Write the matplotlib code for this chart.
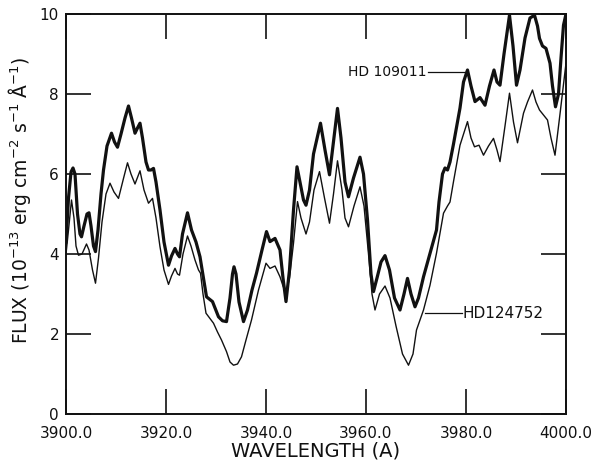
import matplotlib
matplotlib.use("Agg")
import matplotlib.pyplot as plt

# HD 109011 (thick trace): wavelength (A), flux (1e-13 erg cm-2 s-1 A-1)
wl_109011 = [3900.0, 3900.5, 3901.0, 3901.4, 3901.8, 3902.3, 3902.8, 3903.1, 3903.6, 3904.2,
             3904.6, 3905.0, 3905.5, 3905.9, 3906.4, 3907.0, 3907.5, 3908.2, 3909.1, 3909.7,
             3910.3, 3911.0, 3911.8, 3912.5, 3913.1, 3913.8, 3914.3, 3914.8, 3915.3, 3916.0,
             3916.5, 3917.0, 3917.5, 3918.0, 3918.8, 3919.6, 3920.5, 3921.1, 3921.8, 3922.3,
             3922.7, 3923.3, 3924.3, 3925.1, 3926.0, 3926.8, 3927.5, 3928.1, 3929.3, 3930.5,
             3931.3, 3932.1, 3932.8, 3933.3, 3933.6, 3934.0, 3934.6, 3935.5, 3936.3, 3937.2,
             3938.1, 3939.2, 3940.1, 3940.8, 3941.8, 3942.8, 3943.4, 3944.0, 3944.7, 3945.5,
             3946.2, 3946.8, 3947.5, 3948.0, 3948.7, 3949.5, 3950.9, 3951.8, 3952.7, 3953.5,
             3954.3, 3955.0, 3955.8, 3956.5, 3957.5, 3958.8, 3959.5, 3960.3, 3961.0, 3961.5,
             3962.2, 3963.0, 3963.8, 3964.7, 3965.7, 3966.8, 3967.6, 3968.3, 3969.0, 3969.8,
             3970.5, 3971.5, 3972.8, 3974.1, 3974.6, 3975.3, 3975.8, 3976.3, 3976.8, 3977.5,
             3978.8, 3979.5, 3980.3, 3981.0, 3981.8, 3982.8, 3983.8, 3984.7, 3985.6, 3986.2,
             3986.8, 3987.6, 3988.7, 3989.4, 3990.1, 3990.8, 3991.8, 3992.8, 3993.7, 3994.3,
             3994.7, 3995.3, 3996.0, 3996.8, 3997.3, 3997.9, 3998.5, 3999.0, 3999.5, 4000.0]
fx_109011 = [4.3, 5.4, 6.05, 6.15, 6.0, 5.0, 4.5, 4.43, 4.7, 5.0,
             5.03, 4.7, 4.2, 4.06, 4.6, 5.5, 6.1, 6.7, 7.02, 6.8,
             6.67, 7.0, 7.4, 7.7, 7.4, 7.02, 7.15, 7.27, 6.9, 6.3,
             6.1, 6.1, 6.14, 5.8, 5.1, 4.3, 3.72, 3.95, 4.14, 4.0,
             3.93, 4.5, 5.03, 4.6, 4.3, 3.93, 3.4, 2.93, 2.81, 2.43,
             2.33, 2.31, 2.9, 3.5, 3.68, 3.5, 2.8, 2.31, 2.6, 3.1,
             3.52, 4.1, 4.56, 4.31, 4.39, 4.1, 3.4, 2.81, 3.6, 5.1,
             6.18, 5.8, 5.35, 5.22, 5.6, 6.5, 7.27, 6.6, 5.98, 6.8,
             7.64, 6.9, 5.8, 5.43, 5.9, 6.42, 6.0, 4.85, 3.5, 3.06,
             3.4, 3.8, 3.96, 3.6, 2.9, 2.6, 3.0, 3.39, 3.0, 2.68,
             2.9, 3.43, 4.02, 4.6, 5.3, 6.0, 6.15, 6.1, 6.3, 6.75,
             7.65, 8.3, 8.6, 8.2, 7.81, 7.91, 7.72, 8.2, 8.6, 8.3,
             8.22, 9.0, 9.97, 9.2, 8.22, 8.6, 9.4, 9.9, 9.97, 9.7,
             9.39, 9.2, 9.14, 8.77, 8.2, 7.68, 8.0, 8.9, 9.72, 10.0]

# HD 124752 (thin trace)
wl_124752 = [3900.0, 3900.5, 3901.1, 3901.6, 3902.0, 3902.5, 3903.2, 3904.1, 3904.6, 3905.3,
             3905.9, 3906.5, 3907.2, 3908.0, 3908.8, 3909.6, 3910.5, 3911.5, 3912.3, 3913.0,
             3913.8, 3914.8, 3915.6, 3916.5, 3917.3, 3918.0, 3918.8, 3919.6, 3920.5, 3921.1,
             3921.8, 3922.3, 3922.7, 3923.4, 3924.3, 3925.0, 3925.8, 3926.5, 3926.9, 3927.4,
             3928.0, 3929.5, 3930.3, 3931.1, 3932.1, 3932.8, 3933.5, 3934.3, 3935.1, 3936.0,
             3937.1, 3938.5, 3940.0, 3940.8, 3941.8, 3942.8, 3943.4, 3944.0, 3944.7, 3945.5,
             3946.3, 3947.0, 3948.0, 3948.7, 3949.6, 3950.7, 3951.7, 3952.7, 3953.5, 3954.3,
             3955.2, 3955.8, 3956.5, 3957.6, 3958.8, 3959.6, 3960.5, 3961.2, 3961.8, 3962.7,
             3963.8, 3964.8, 3966.0, 3967.3, 3968.5, 3969.4, 3970.1, 3971.5, 3972.8, 3974.1,
             3975.5, 3976.3, 3976.8, 3977.5, 3978.8, 3980.3, 3981.0, 3981.7, 3982.6, 3983.5,
             3984.5, 3985.5, 3986.2, 3986.8, 3987.8, 3988.7, 3989.5, 3990.3, 3991.5, 3992.3,
             3993.3, 3994.0, 3994.7, 3996.3, 3997.0, 3997.8, 3998.8, 4000.0]
fx_124752 = [4.0, 4.6, 5.35, 4.9, 4.2, 3.97, 4.0, 4.25, 4.1, 3.6,
             3.27, 3.9, 4.8, 5.5, 5.77, 5.55, 5.39, 5.89, 6.28, 6.0,
             5.75, 6.08, 5.6, 5.27, 5.39, 4.9, 4.18, 3.6, 3.24, 3.45,
             3.64, 3.5, 3.47, 4.0, 4.45, 4.2, 3.85, 3.6, 3.52, 3.0,
             2.52, 2.27, 2.05, 1.85, 1.56, 1.3, 1.22, 1.25, 1.43, 1.85,
             2.35, 3.1, 3.77, 3.64, 3.7, 3.43, 3.2, 3.02, 3.4, 4.27,
             5.31, 4.9, 4.5, 4.8, 5.6, 6.06, 5.4, 4.77, 5.5, 6.33,
             5.6, 4.9, 4.68, 5.2, 5.68, 5.2, 4.0, 3.0, 2.6, 3.0,
             3.2, 2.9, 2.2, 1.5, 1.22, 1.5, 2.1, 2.6, 3.22, 4.02,
             5.02, 5.2, 5.3, 5.81, 6.72, 7.31, 6.9, 6.68, 6.72, 6.47,
             6.7, 6.89, 6.6, 6.31, 7.2, 8.02, 7.3, 6.78, 7.52, 7.8,
             8.1, 7.8, 7.6, 7.35, 6.9, 6.47, 7.5, 8.77]

x_ticks = [3900, 3920, 3940, 3960, 3980, 4000]
x_ticklabels = ["3900.0", "3920.0", "3940.0", "3960.0", "3980.0", "4000.0"]
y_ticks = [0, 2, 4, 6, 8, 10]

INK = "#111111"
plt.rcParams["font.family"] = "DejaVu Sans"
plt.rcParams["mathtext.default"] = "regular"

fig = plt.figure(figsize=(5.93, 4.63), dpi=100)
ax = fig.add_axes([66 / 593, 1 - 414 / 463, 500 / 593, 400 / 463])

ax.plot(wl_109011, fx_109011, color=INK, lw=2.3, solid_joinstyle="round")
ax.plot(wl_124752, fx_124752, color=INK, lw=1.0, solid_joinstyle="round")

# curve labels with leader lines
ax.plot([3972.3, 3979.9], [8.55, 8.55], color=INK, lw=0.9)
ax.text(3972.1, 8.55, "HD 109011", ha="right", va="center", fontsize=10, color=INK)
ax.plot([3971.8, 3979.1], [2.52, 2.52], color=INK, lw=0.9)
ax.text(3979.4, 2.52, "HD124752", ha="left", va="center", fontsize=11, color=INK)

ax.set_xlim(3900, 4000)
ax.set_ylim(0, 10)
ax.set_xticks(x_ticks)
ax.set_xticklabels(x_ticklabels)
ax.set_yticks(y_ticks)
ax.tick_params(direction="in", length=18, width=1.2, top=True, right=True,
               labelsize=11, colors=INK)
ax.tick_params(axis="x", pad=9)
ax.tick_params(axis="y", pad=5)
for s in ax.spines.values():
    s.set_linewidth(1.4)
    s.set_color(INK)

ax.set_xlabel("WAVELENGTH (A)", fontsize=14, color=INK, labelpad=0)
ax.set_ylabel(r"FLUX (10$^{-13}$ erg cm$^{-2}$ s$^{-1}$ Å$^{-1}$)", fontsize=13.5,
              color=INK)
ax.yaxis.set_label_coords(-0.066, 0.535)

fig.savefig("out.png", dpi=100, facecolor="white")
